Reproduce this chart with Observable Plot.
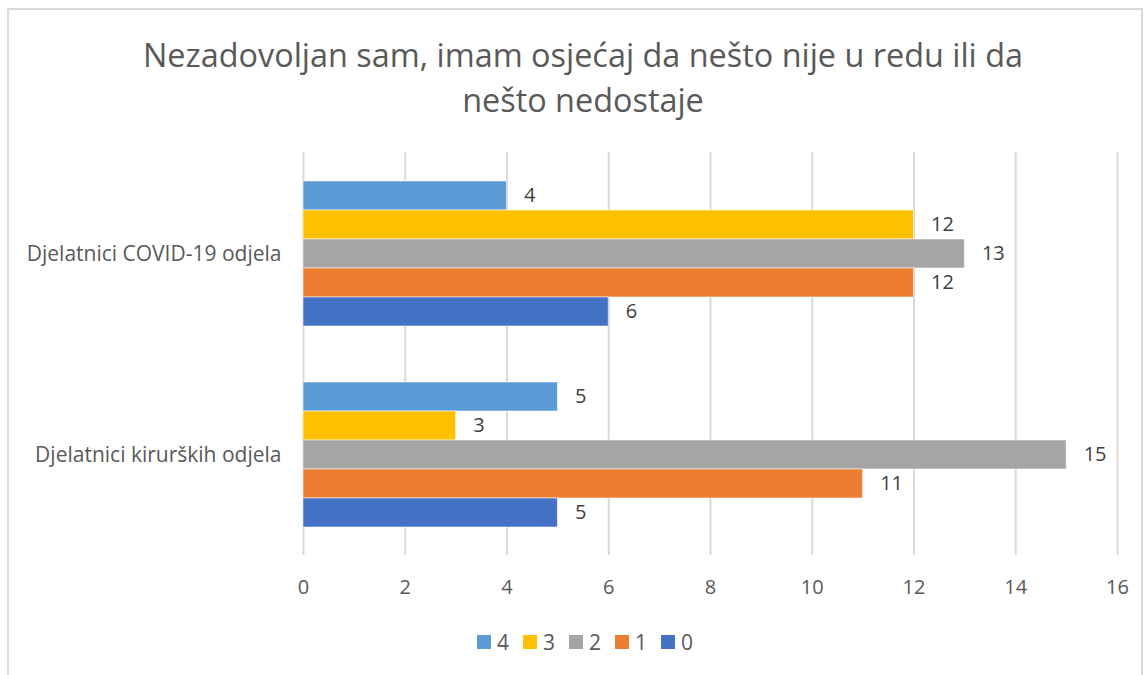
<!DOCTYPE html>
<html>
<head>
<meta charset="utf-8">
<script src="https://cdn.jsdelivr.net/npm/d3@7"></script>
<script src="https://cdn.jsdelivr.net/npm/@observablehq/plot@0.6"></script>
<style>
  html, body { margin: 0; padding: 0; background: #fff; }
  #wrap { position: relative; width: 1146px; height: 675px; overflow: hidden; font-family: "Open Sans", sans-serif; }
  #border { position: absolute; left: 7px; top: 8px; width: 1136px; height: 700px; border: 2px solid #d9d9d9; box-sizing: border-box; }
  #title { position: absolute; left: 0; width: 1166px; top: 32px; text-align: center; color: #595959; font-size: 32.4px; line-height: 45px; }
  #grid, #chart { position: absolute; left: 0; top: 0; }
  #legend { position: absolute; left: 0; width: 1170px; top: 628px; display: flex; justify-content: center; gap: 14px; color: #595959; font-size: 21px; }
  .item { display: flex; align-items: center; gap: 6px; }
  .sw { width: 14px; height: 14px; display: inline-block; }
</style>
</head>
<body>
<div id="wrap">
  <div id="border"></div>
  <div id="title">Nezadovoljan sam, imam osjećaj da nešto nije u redu ili da<br>nešto nedostaje</div>
  <div id="grid"></div>
  <div id="chart"></div>
  <div id="legend"></div>
</div>
<script>
const groups = ["Djelatnici COVID-19 odjela", "Djelatnici kirurških odjela"];
const series = ["4", "3", "2", "1", "0"];
const covidValues = [4, 12, 13, 12, 6];
const kirurskiValues = [5, 3, 15, 11, 5];
const colors = ["#5B9BD5", "#FFC000", "#A5A5A5", "#ED7D31", "#4472C4"];
const xTicks = [0, 2, 4, 6, 8, 10, 12, 14, 16];

const rows = [];
series.forEach((s, i) => rows.push({group: groups[0], series: s, value: covidValues[i]}));
series.forEach((s, i) => rows.push({group: groups[1], series: s, value: kirurskiValues[i]}));

const common = {
  width: 1146,
  height: 675,
  marginTop: 152,
  marginBottom: 120,
  marginLeft: 303,
  marginRight: 29,
  style: {fontFamily: "Open Sans", fontSize: "20px", color: "#595959", background: "transparent"}
};

// background: full-height gridlines + x axis
const gridPlot = Plot.plot({
  ...common,
  x: {domain: [0, 16], ticks: xTicks, label: null},
  marks: [
    Plot.ruleX(xTicks, {stroke: "#d9d9d9", strokeWidth: 2}),
    Plot.axisX({ticks: xTicks, tickSize: 0, tickPadding: 24, label: null, fill: "#595959"})
  ]
});
document.getElementById("grid").appendChild(gridPlot);

// foreground: faceted bars
const plot = Plot.plot({
  ...common,
  facet: {data: rows, y: "group"},
  fy: {domain: groups, paddingInner: 0.27, paddingOuter: 0.134, label: null},
  y: {domain: series, padding: 0, axis: null},
  x: {domain: [0, 16], axis: null},
  color: {domain: series, range: colors},
  marks: [
    Plot.barX(rows, {x: "value", y: "series", fill: "series", stroke: "white", strokeOpacity: 0.55, strokeWidth: 1}),
    Plot.text(rows, {x: "value", y: "series", text: d => String(d.value), dx: 17, textAnchor: "start", fill: "#404040", fontSize: 20}),
    Plot.axisFy({anchor: "left", tickSize: 0, tickPadding: 22, label: null, fill: "#595959", fontSize: 21})
  ]
});
document.getElementById("chart").appendChild(plot);

const legend = document.getElementById("legend");
series.forEach((s, i) => {
  const it = document.createElement("div");
  it.className = "item";
  const sw = document.createElement("span");
  sw.className = "sw";
  sw.style.background = colors[i];
  it.appendChild(sw);
  const t = document.createElement("span");
  t.textContent = s;
  it.appendChild(t);
  legend.appendChild(it);
});
</script>
</body>
</html>
